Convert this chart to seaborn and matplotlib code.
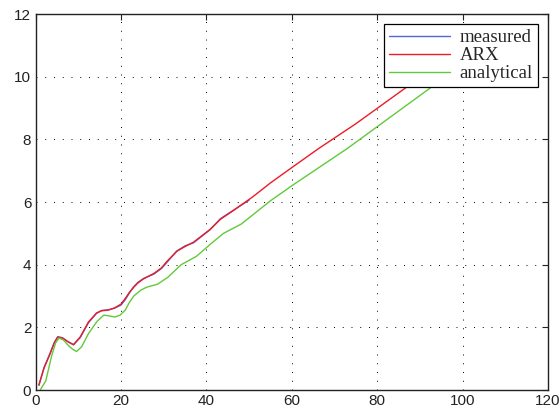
import numpy as np
import pandas as pd
import seaborn as sns
import matplotlib.pyplot as plt

# values
arx_x = [0.8, 2, 3.4, 4.4, 5.2, 6.3, 7.5, 8.9, 10.5, 12.4, 14.3, 15.5, 17, 18.5, 20, 21, 22,
         23, 24, 25.3, 27.7, 29.5, 30.8, 33.1, 35, 37, 40.9, 43.3, 46, 50.7, 55, 60, 66.3, 75, 87.5, 100]
arx_y = [0.16, 0.7, 1.15, 1.5, 1.69, 1.66, 1.55, 1.45, 1.7, 2.17, 2.46, 2.53, 2.55, 2.62, 2.74, 2.92, 3.12,
         3.28, 3.42, 3.55, 3.72, 3.9, 4.11, 4.43, 4.58, 4.72, 5.13, 5.45, 5.7, 6.15, 6.61, 7.1, 7.71, 8.5, 9.73, 10.9]

meas_x = [0.8, 2, 3.4, 4.4, 5.2, 6.3, 7.5, 8.9, 10.5, 12.4, 14.3, 15.5, 17, 18.5, 20, 21, 22,
          23, 24, 25.3, 27.7, 29.5, 30.8, 33.1, 35, 37, 40.9, 43.3, 46, 50]
meas_y = [0.15, 0.72, 1.17, 1.52, 1.7, 1.67, 1.55, 1.44, 1.68, 2.15, 2.45, 2.54, 2.56, 2.61, 2.71, 2.88, 3.1,
          3.3, 3.44, 3.56, 3.7, 3.88, 4.08, 4.44, 4.6, 4.7, 5.12, 5.47, 5.71, 6.06]

ana_x = [1.1, 2.4, 3.8, 4.7, 5.5, 6.5, 7.7, 8.7, 9.6, 10.8, 12.4, 14.4, 16, 17.5, 18.6, 19.8, 21,
         22, 23, 24.7, 26, 28.6, 31, 34.1, 37.7, 40.9, 44, 48.2, 55, 60, 73, 93.3, 100]
ana_y = [0.0, 0.29, 1.1, 1.5, 1.66, 1.6, 1.42, 1.3, 1.23, 1.38, 1.8, 2.19, 2.39, 2.36, 2.33, 2.39, 2.55,
         2.8, 3.0, 3.19, 3.28, 3.38, 3.6, 4.0, 4.27, 4.65, 5.0, 5.3, 6.04, 6.52, 7.71, 9.73, 10.4]

df = pd.concat([
    pd.DataFrame({"t": meas_x, "y": meas_y, "series": "measured"}),
    pd.DataFrame({"t": arx_x, "y": arx_y, "series": "ARX"}),
    pd.DataFrame({"t": ana_x, "y": ana_y, "series": "analytical"}),
])

sns.set_style("white")
plt.rcParams["font.family"] = ["Liberation Sans", "DejaVu Sans"]

fig = plt.figure(figsize=(5.6, 4.16), dpi=100)
ax = fig.add_axes([0.0634, 0.0625, 0.9152, 0.9035])

colors = {"measured": "#4f67d6", "ARX": "#ec1c24", "analytical": "#62c93a"}
sns.lineplot(data=df, x="t", y="y", hue="series", palette=colors, sort=False,
             estimator=None, linewidth=1.0, ax=ax)

ax.set_xlim(0, 120)
ax.set_ylim(0, 12)
ax.set_xticks(range(0, 121, 20))
ax.set_yticks(range(0, 13, 2))
ax.set_xlabel("")
ax.set_ylabel("")
ax.grid(True, color="black", linestyle=(0, (1, 8)), linewidth=0.7)
ax.tick_params(direction="in", top=True, right=True, length=4, width=0.8,
               labelsize=11, colors="#222222", pad=3)
for s in ax.spines.values():
    s.set_color("#222222")
    s.set_linewidth(1.0)

leg = ax.legend(loc="upper right", prop={"family": "Liberation Serif", "size": 13.5},
                handlelength=3.3, labelspacing=0.05, borderpad=0.25, handletextpad=0.5,
                borderaxespad=0.55, fancybox=False, framealpha=1)
leg.get_frame().set_edgecolor("black")
leg.get_frame().set_linewidth(0.9)

fig.savefig("out.png", dpi=100)
